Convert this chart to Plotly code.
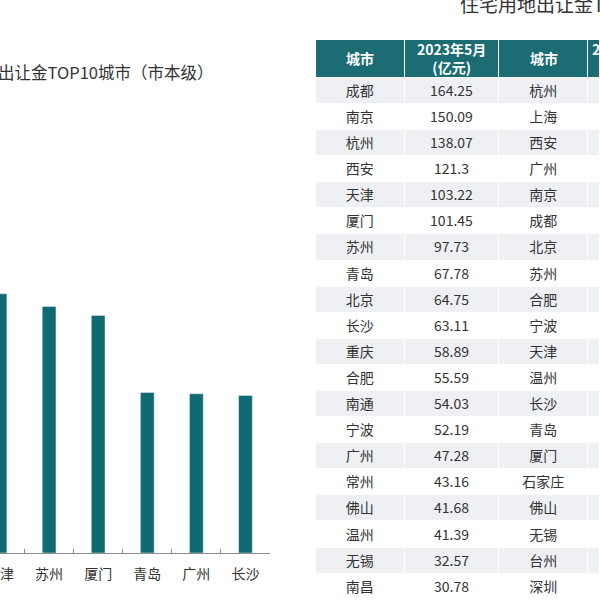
import plotly.graph_objects as go

# ---- data ----
bar_cities = ["天津", "苏州", "厦门", "青岛", "广州", "长沙"]
bar_values = [103.7, 98.6, 95.0, 64.2, 63.7, 63.0]

may_cities = ["成都", "南京", "杭州", "西安", "天津", "厦门", "苏州", "青岛", "北京", "长沙",
              "重庆", "合肥", "南通", "宁波", "广州", "常州", "佛山", "温州", "无锡", "南昌"]
may_values = [164.25, 150.09, 138.07, 121.3, 103.22, 101.45, 97.73, 67.78, 64.75, 63.11,
              58.89, 55.59, 54.03, 52.19, 47.28, 43.16, 41.68, 41.39, 32.57, 30.78]
ytd_cities = ["杭州", "上海", "西安", "广州", "南京", "成都", "北京", "苏州", "合肥", "宁波",
              "天津", "温州", "长沙", "青岛", "厦门", "石家庄", "佛山", "无锡", "台州", "深圳"]
# values of the fourth column lie outside the visible picture
ytd_values = [""] * len(ytd_cities)

header_labels = ["<b>城市</b>", "<b>2023年5月<br>(亿元)</b>", "<b>城市</b>", "<b>2023年1-5月<br>(亿元)</b>"]
bar_title = "住宅用地出让金TOP10城市（市本级）"
table_title = "住宅用地出让金TOP20城市"

# ---- layout constants ----
W, H = 600, 600
TEAL = "#0f6a72"
HEAD = "#1b6d73"
FONT = "Noto Sans CJK SC"

fig = go.Figure()

fig.add_trace(go.Bar(
    x=bar_cities, y=bar_values, marker_color=TEAL, width=0.28,
    xaxis="x", yaxis="y", showlegend=False, hoverinfo="skip"))

# column widths in px (the 4th column runs past the right edge of the picture)
col_full = [89, 95, 89, 90]
tx0 = 315.3
col_vis = col_full[:3] + [W - tx0 - sum(col_full[:3])]
head_top, head_h, row_h = 39.3, 38, 26.1
n = len(may_cities)
row_fill = ["#eef0f3" if i % 2 == 0 else "#ffffff" for i in range(n)]

fig.add_trace(go.Table(
    domain=dict(x=[tx0 / W, 1], y=[0, (H - head_top) / H]),
    columnwidth=col_vis,
    header=dict(values=[""] * 4, fill_color=HEAD, align="center",
                font=dict(family=FONT, size=14, color="white"),
                line=dict(color="white", width=1), height=head_h),
    cells=dict(values=[may_cities, may_values, ytd_cities, ytd_values],
               fill_color=[row_fill] * 4, align="center",
               font=dict(family=FONT, size=14, color="#333333"),
               line=dict(color="white", width=1), height=row_h),
))

annotations = [
    dict(text=bar_title, xref="paper", yref="paper", x=215 / W, y=1 - 72 / H,
         xanchor="right", yanchor="middle", showarrow=False,
         font=dict(family=FONT, size=16.5, color="#333333")),
    dict(text=table_title, xref="paper", yref="paper", x=458 / W, y=1 - 3 / H,
         xanchor="left", yanchor="middle", showarrow=False,
         font=dict(family=FONT, size=19, color="#333333")),
]
# header labels, centred on each column of the table header
x_left = tx0
for label, w in zip(header_labels, col_full):
    annotations.append(dict(
        text=label, xref="paper", yref="paper",
        x=(x_left + w / 2) / W, y=1 - (head_top + head_h / 2) / H,
        xanchor="center", yanchor="middle", showarrow=False,
        font=dict(family=FONT, size=14, color="white")))
    x_left += w

fig.update_layout(
    width=W, height=H,
    margin=dict(l=0, r=0, t=0, b=0, autoexpand=False),
    paper_bgcolor="white", plot_bgcolor="white",
    font=dict(family=FONT, color="#333333"),
    xaxis=dict(domain=[0, 270 / W], range=[0, 5.5], type="category", autorange=False,
               automargin=False,
               showline=True, linecolor="#8c8c8c", linewidth=1,
               ticks="inside", tickson="boundaries", ticklen=4, tickcolor="#8c8c8c",
               showgrid=False, zeroline=False, ticklabelstandoff=8,
               tickfont=dict(family=FONT, size=14, color="#333333"), fixedrange=True),
    yaxis=dict(domain=[47 / H, 347 / H], range=[0, 120], visible=False,
               automargin=False, fixedrange=True),
    annotations=annotations,
)

fig.write_html("out.html", config={"displayModeBar": False},
               post_script="document.body.style.margin='0';document.body.style.overflow='hidden';")
